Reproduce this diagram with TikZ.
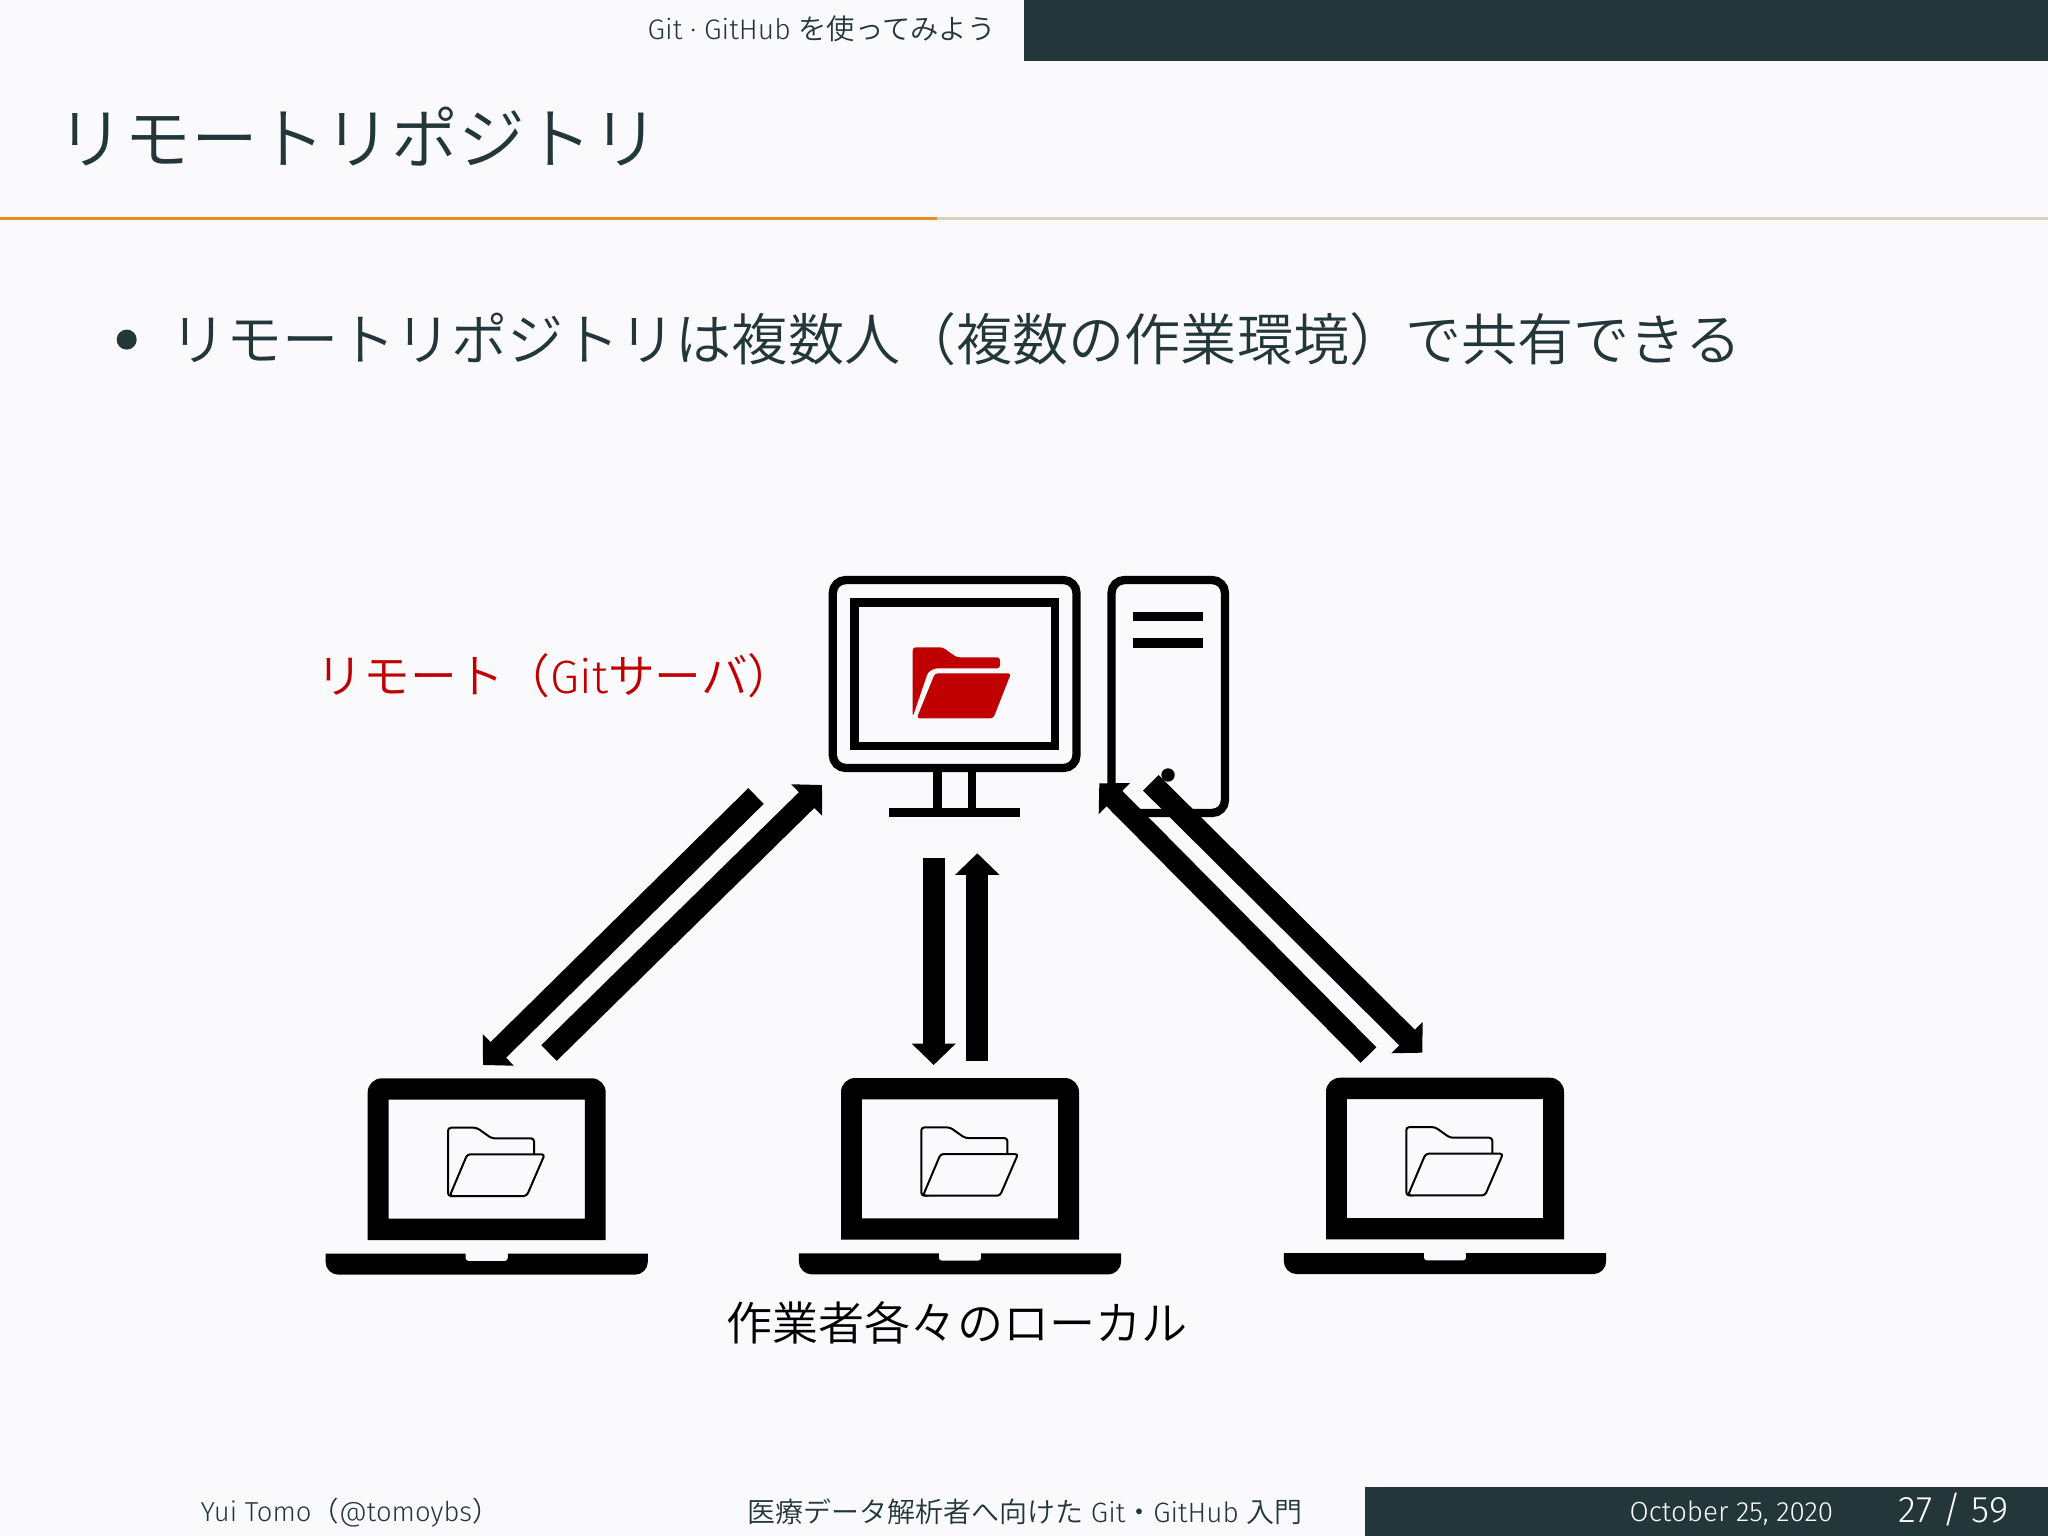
\documentclass[tikz,border=0pt]{standalone}
\usepackage{fontspec}
\usetikzlibrary{arrows.meta}
\setmainfont{Fira Sans}[UprightFont=* Light]
\newfontfamily\jp{Noto Sans CJK JP}[UprightFont=* DemiLight]
\definecolor{bgcol}{HTML}{FAFAFC}
\definecolor{darkcol}{HTML}{23373B}
\definecolor{redcol}{HTML}{C00000}
\definecolor{orangecol}{HTML}{E38D2C}
\definecolor{tancol}{HTML}{D8CFBE}
\tikzset{
  txt/.style={inner sep=0pt,anchor=west},
  outline/.style={line width=0.083cm,rounded corners=0.13cm},
  flow/.style={line width=0.22cm,-{Triangle[length=0.215cm,width=0.43cm]}},
  laptop/.pic={
    \fill[even odd rule] (-119,161.7) [rounded corners=0.14cm] -- (-119,0) -- (119,0) [sharp corners] -- (119,161.7) -- cycle
      (-98.2,21.4) rectangle (98.2,140.4);
    \fill (-161.2,175.4) -- (-21.2,175.4) [rounded corners=0.03cm] -- (-21.2,182.7) -- (21.2,182.7) [sharp corners] -- (21.2,175.4) -- (161.2,175.4)
      [rounded corners=0.13cm] -- (161.2,196.4) -- (-161.2,196.4) [sharp corners] -- cycle;
    \draw[line width=0.02cm,rounded corners=0.03cm] (-36.7,117.7) -- (-38.7,117.7) -- (-38.7,49.4) -- (-10,49.4) -- (5,60) -- (47.3,60) -- (47.3,76);
    \draw[line width=0.02cm,rounded corners=0.03cm] (-37,117.7) -- (-19.4,76) -- (58,76) -- (40,117.7) -- cycle;
  }
}
\begin{document}
\begin{tikzpicture}[x=0.01cm,y=-0.01cm]
    \useasboundingbox (0,0) rectangle (2048,1536);
    \fill[bgcol] (0,0) rectangle (2048,1536);
    % frame
    \fill[darkcol] (1024,0) rectangle (2048,61);
    \fill[darkcol] (1365,1487) rectangle (2048,1536);
    \fill[tancol] (937,217) rectangle (2048,219.5);
    \fill[orangecol] (0,217) rectangle (937,219.5);
    \node[txt,text=darkcol,font=\fontsize{8.05}{10}\selectfont] (header) at (647,29) {Git · GitHub {\jp を使ってみよう}};
    \node[txt,text=darkcol,font=\jp\fontsize{19}{22}\selectfont] (title) at (57,137) {リモートリポジトリ};
    \fill[darkcol] (126.7,339.6) circle (10);
    \node[txt,text=darkcol,font=\jp\fontsize{15.96}{19}\selectfont] (body) at (170,339) {リモートリポジトリは複数人（複数の作業環境）で共有できる};
    \node[txt,text=redcol,font=\fontsize{13.3}{15}\selectfont] (remote) at (316,676) {{\jp リモート（}Git{\jp サーバ）}};
    \node[txt,text=black,font=\jp\fontsize{13.1}{16}\selectfont] (local) at (726,1323) {作業者各々のローカル};
    \node[txt,text=darkcol,font=\fontsize{7.8}{10}\selectfont] (author) at (200,1513) {Yui Tomo{\jp （}@tomoybs{\jp ）}};
    \node[txt,text=darkcol,font=\fontsize{7.95}{10}\selectfont] (course) at (747,1512) {{\jp 医療データ解析者へ向けた} Git{\jp ・}GitHub {\jp 入門}};
    \node[txt,text=white,font=\fontsize{7.9}{10}\selectfont] (date) at (1629,1513) {October 25, 2020};
    \node[txt,text=white,font=\fontsize{10.5}{12}\selectfont] (page) at (1898,1509) {27 / 59};
    % server
    \draw[outline] (832.8,580) rectangle (1076.5,768);
    \draw[line width=0.087cm] (854.3,602.8) rectangle (1055,746);
    \draw[line width=0.087cm] (937.3,768) -- (937.3,812);
    \draw[line width=0.087cm] (972,768) -- (972,812);
    \draw[line width=0.09cm] (889.3,812.8) -- (1020,812.8);
    \draw[outline] (1111.5,580) rectangle (1225,813);
    \draw[line width=0.093cm] (1133.3,616.3) -- (1203.3,616.3);
    \draw[line width=0.093cm] (1133.3,643) -- (1203.3,643);
    \fill (1168,775) circle (6.7);
    \fill[redcol,rounded corners=0.03cm] (912.7,717) -- (912.7,647.3) -- (942.7,647.3) -- (956.7,657.3) -- (1000,657.3) -- (1000,668.3) -- (935,668.3) -- (928,672) -- cycle;
    \fill[redcol,rounded corners=0.03cm] (916.7,718.3) -- (935,673.3) -- (1011,673.3) -- (993.3,718.3) -- cycle;
    % clients
    \pic (laptopa) at (486.7,1078.3) {laptop};
    \pic (laptopb) at (960,1078) {laptop};
    \pic (laptopc) at (1445,1077.7) {laptop};
    % arrows
    \coordinate (atail) at (756,796);
    \coordinate (ahead) at (483,1065);
    \coordinate (btail) at (549,1053);
    \coordinate (bhead) at (822,785);
    \coordinate (ctail) at (933.7,858.3);
    \coordinate (chead) at (933.7,1065);
    \coordinate (dtail) at (977.3,1060.7);
    \coordinate (dhead) at (977.3,853.3);
    \coordinate (etail) at (1368.5,1055);
    \coordinate (ehead) at (1099.3,783.3);
    \coordinate (ftail) at (1150.8,782.8);
    \coordinate (fhead) at (1422.3,1052.7);
    \draw[flow] (atail) -- (ahead);
    \draw[flow] (btail) -- (bhead);
    \draw[flow] (ctail) -- (chead);
    \draw[flow] (dtail) -- (dhead);
    \draw[flow] (etail) -- (ehead);
    \draw[flow] (ftail) -- (fhead);
\end{tikzpicture}
\end{document}
